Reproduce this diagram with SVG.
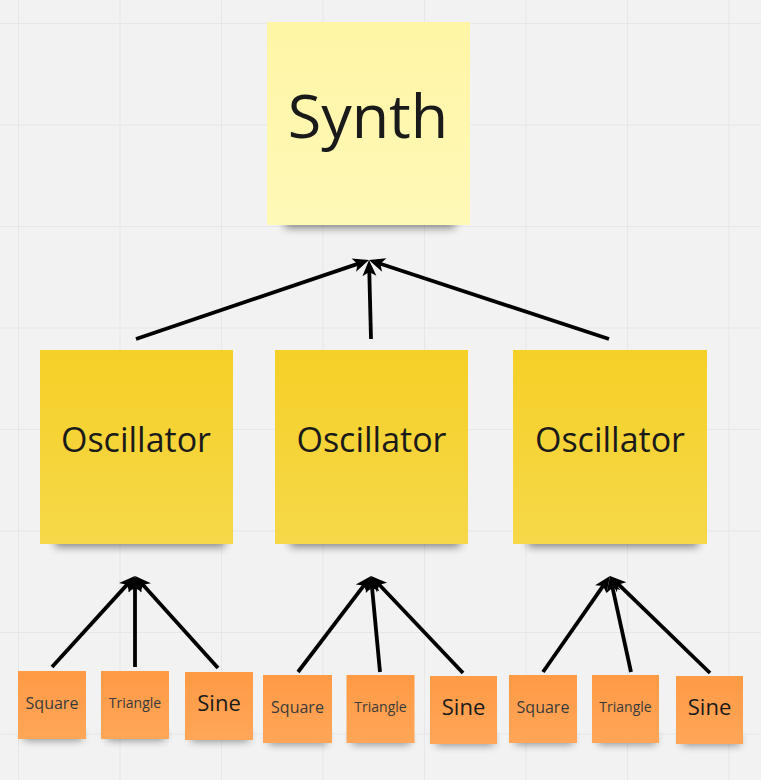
<svg xmlns="http://www.w3.org/2000/svg" width="761" height="780" viewBox="0 0 761 780">
<defs>
<pattern id="grid" x="18" y="23" width="101.5" height="101.5" patternUnits="userSpaceOnUse">
<path d="M0,0 H101.5 M0,0 V101.5" stroke="#e3e3e3" stroke-width="1.5" fill="none"/>
</pattern>
<filter id="blur" x="-20%" y="-100%" width="140%" height="300%"><feGaussianBlur stdDeviation="4"/></filter>
<linearGradient id="gSynth" x1="0" y1="0" x2="0" y2="1"><stop offset="0" stop-color="#fff5a5"/><stop offset="1" stop-color="#fff9b8"/></linearGradient>
<linearGradient id="gOsc" x1="0" y1="0" x2="0" y2="1"><stop offset="0" stop-color="#f5d027"/><stop offset="1" stop-color="#f6d849"/></linearGradient>
<linearGradient id="gOr" x1="0" y1="0" x2="0" y2="1"><stop offset="0" stop-color="#ff9a45"/><stop offset="1" stop-color="#ffa658"/></linearGradient>
<marker id="arr" viewBox="-9 -8 18 16" refX="0" refY="0" markerWidth="18" markerHeight="16" markerUnits="userSpaceOnUse" orient="auto">
<path d="M8,0 L-8,-7 L-4,0 L-8,7 Z" fill="#000"/>
</marker>
</defs>
<style>
.sh{fill:#000;opacity:0.45;filter:url(#blur)}
.t{font-family:"Open Sans","Liberation Sans",sans-serif;text-anchor:middle}
.big{fill:#1a1a1a}
.sm{fill:#3a3a3a}
.c{stroke:#000;stroke-width:3.8;fill:none;marker-end:url(#arr)}
</style>
<rect width="761" height="780" fill="#f2f2f2"/>
<rect width="761" height="780" fill="url(#grid)"/>

<g id="connectors">
<path class="c" d="M136,339 L361.4,262.6"/>
<path class="c" d="M371,339 L369.2,268"/>
<path class="c" d="M609,339 L376.6,262.5"/>
<path class="c" d="M52,667 L129.6,581.9"/>
<path class="c" d="M135,667 L135,584"/>
<path class="c" d="M218,668 L140.4,581.9"/>
<path class="c" d="M298,672 L366.2,582.4"/>
<path class="c" d="M380,672 L371.7,584"/>
<path class="c" d="M463,673 L376.5,581.8"/>
<path class="c" d="M543,672 L605.4,582.6"/>
<path class="c" d="M631,672 L611.7,583.8"/>
<path class="c" d="M710,673 L615.7,581.6"/>
</g>

<g id="synth">
<rect class="sh" x="285" y="212" width="170" height="16"/>
<rect x="267" y="22" width="203" height="203" fill="url(#gSynth)"/>
<text class="t big" x="368" y="138" font-size="61">Synth</text>
</g>

<g id="osc1">
<rect class="sh" x="55" y="531" width="170" height="16"/>
<rect x="40" y="350" width="193" height="194" fill="url(#gOsc)"/>
<text class="t big" x="136" y="452" font-size="34">Oscillator</text>
</g>
<g id="osc2">
<rect class="sh" x="290" y="531" width="170" height="16"/>
<rect x="275" y="350" width="193" height="194" fill="url(#gOsc)"/>
<text class="t big" x="371.5" y="452" font-size="34">Oscillator</text>
</g>
<g id="osc3">
<rect class="sh" x="528" y="531" width="170" height="16"/>
<rect x="513" y="350" width="194" height="194" fill="url(#gOsc)"/>
<text class="t big" x="610" y="452" font-size="34">Oscillator</text>
</g>

<g id="sq1">
<rect class="sh" x="24" y="731" width="58" height="9"/>
<rect x="18" y="671" width="68" height="68" fill="url(#gOr)"/>
<text class="t sm" x="52" y="709" font-size="16">Square</text>
</g>
<g id="tri1">
<rect class="sh" x="107" y="731" width="58" height="9"/>
<rect x="101" y="671" width="68" height="68" fill="url(#gOr)"/>
<text class="t sm" x="135" y="708" font-size="14">Triangle</text>
</g>
<g id="sine1">
<rect class="sh" x="191" y="732" width="58" height="9"/>
<rect x="185" y="672" width="68" height="68" fill="url(#gOr)"/>
<text class="t big" x="219" y="711" font-size="22">Sine</text>
</g>

<g id="sq2">
<rect class="sh" x="269" y="735" width="58" height="9"/>
<rect x="263" y="675" width="69" height="68" fill="url(#gOr)"/>
<text class="t sm" x="297.5" y="713" font-size="16">Square</text>
</g>
<g id="tri2">
<rect class="sh" x="352" y="735" width="58" height="9"/>
<rect x="346.5" y="675" width="68" height="68" fill="url(#gOr)"/>
<text class="t sm" x="380.5" y="712" font-size="14">Triangle</text>
</g>
<g id="sine2">
<rect class="sh" x="436" y="736" width="58" height="9"/>
<rect x="430" y="676" width="67" height="68" fill="url(#gOr)"/>
<text class="t big" x="463.5" y="715" font-size="22">Sine</text>
</g>

<g id="sq3">
<rect class="sh" x="515" y="735" width="58" height="9"/>
<rect x="509" y="675" width="68" height="68" fill="url(#gOr)"/>
<text class="t sm" x="543" y="713" font-size="16">Square</text>
</g>
<g id="tri3">
<rect class="sh" x="598" y="735" width="58" height="9"/>
<rect x="592" y="675" width="67" height="68" fill="url(#gOr)"/>
<text class="t sm" x="625.5" y="712" font-size="14">Triangle</text>
</g>
<g id="sine3">
<rect class="sh" x="682" y="736" width="58" height="9"/>
<rect x="676" y="676" width="67" height="68" fill="url(#gOr)"/>
<text class="t big" x="709.5" y="715" font-size="22">Sine</text>
</g>
</svg>
